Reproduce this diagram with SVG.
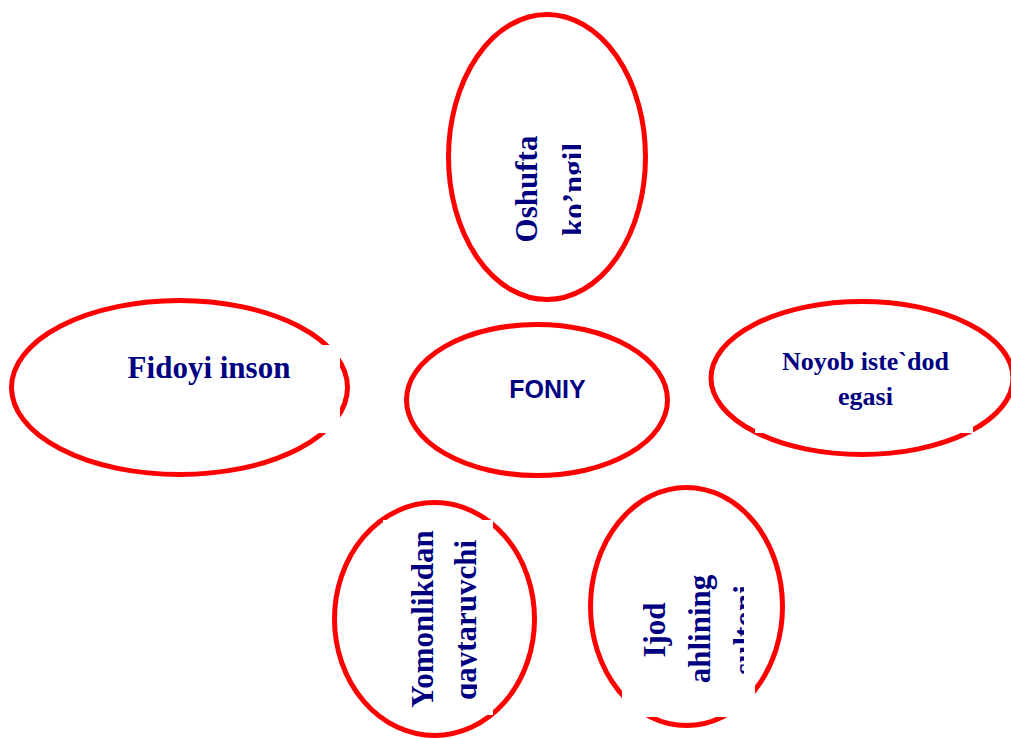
<svg xmlns="http://www.w3.org/2000/svg" width="1011" height="739" viewBox="0 0 1011 739">
<style>
.ell{fill:#ffffff;stroke:#ff0000;stroke-width:5}
.box{fill:#ffffff;stroke:none}
.ser{font-family:"Liberation Serif","Times New Roman",serif;font-weight:bold;fill:#000080;text-anchor:middle}
.san{font-family:"Liberation Sans",Arial,sans-serif;font-weight:bold;fill:#000080;text-anchor:middle}
</style>
<defs>
<clipPath id="cTop"><rect x="440" y="0" width="141" height="320"/></clipPath>
<clipPath id="cYom"><rect x="383" y="500" width="94" height="239"/></clipPath>
<clipPath id="cIjod"><rect x="622" y="520" width="122" height="200"/></clipPath>
</defs>
<rect x="0" y="0" width="1011" height="739" fill="#ffffff"/>
<g id="connectors"></g>
<g id="node-oshufta">
<ellipse class="ell" cx="547" cy="157" rx="98.5" ry="142.5"/>
<g clip-path="url(#cTop)">
<text class="ser" font-size="31" transform="translate(537,189) rotate(-90)">Oshufta</text>
<text class="ser" font-size="31" transform="translate(584,189.5) rotate(-90)">ko’ngil</text>
</g>
</g>
<g id="node-fidoyi">
<ellipse class="ell" cx="179.5" cy="387.5" rx="168" ry="87"/>
<rect class="box" x="100" y="345" width="240" height="88"/>
<text class="ser" font-size="31" x="209" y="378">Fidoyi inson</text>
</g>
<g id="node-foniy">
<ellipse class="ell" cx="537" cy="400" rx="130.5" ry="75.5"/>
<text class="san" font-size="25" x="547.5" y="398">FONIY</text>
</g>
<g id="node-noyob">
<ellipse class="ell" cx="862" cy="378" rx="151" ry="76.5"/>
<rect class="box" x="755" y="340" width="218" height="93"/>
<text class="ser" font-size="26" x="865.5" y="370">Noyob iste`dod</text>
<text class="ser" font-size="26" x="865.5" y="405">egasi</text>
</g>
<g id="node-yomonlikdan">
<ellipse class="ell" cx="434.5" cy="619" rx="100" ry="116.5"/>
<rect class="box" x="383" y="520" width="110" height="195"/>
<g clip-path="url(#cYom)">
<text class="ser" font-size="31" transform="translate(432.5,619) rotate(-90)">Yomonlikdan</text>
<text class="ser" font-size="31" transform="translate(476,620) rotate(-90)">qaytaruvchi</text>
</g>
</g>
<g id="node-ijod">
<ellipse class="ell" cx="686.5" cy="606.5" rx="96" ry="119"/>
<rect class="box" x="622" y="560" width="133" height="157"/>
<g clip-path="url(#cIjod)">
<text class="ser" font-size="31" transform="translate(665,630) rotate(-90)">Ijod</text>
<text class="ser" font-size="31" transform="translate(710,629) rotate(-90)">ahlining</text>
<text class="ser" font-size="31" transform="translate(755,630) rotate(-90)">sultoni</text>
</g>
</g>
</svg>
